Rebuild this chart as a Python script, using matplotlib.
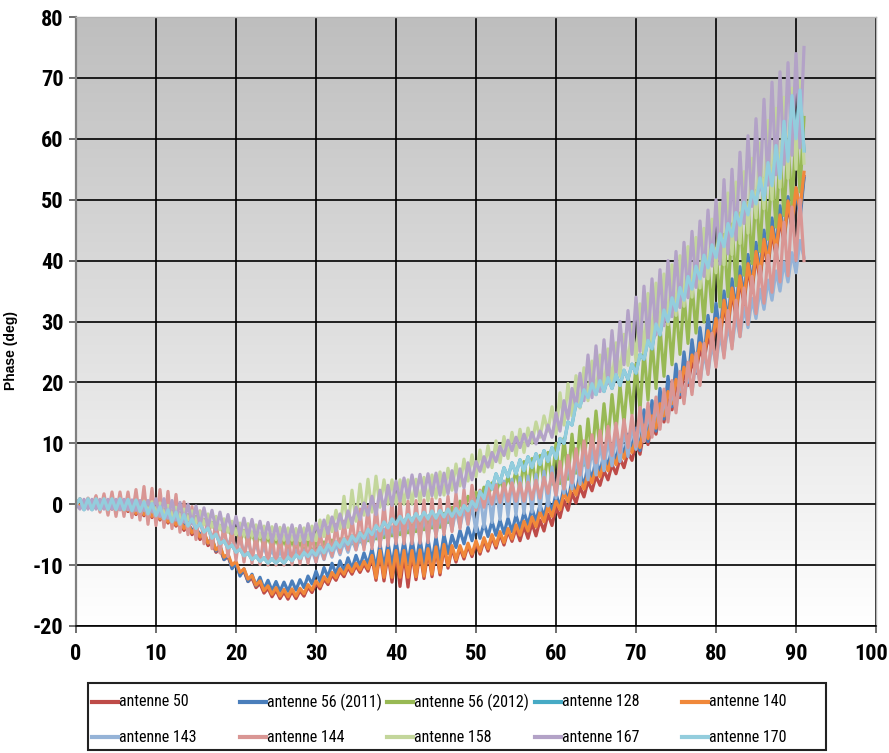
import numpy as np
import matplotlib
matplotlib.use('Agg')
import matplotlib.pyplot as plt
from matplotlib import font_manager
from matplotlib.colors import LinearSegmentedColormap
from matplotlib.lines import Line2D
from matplotlib.patches import Rectangle
from matplotlib.transforms import ScaledTranslation

# phase, one sample every 0.5 deg of angle (0 .. 91)
angle = np.arange(0, 91.5, 0.5)

ant50 = [0, -0.3, 0.1, -0.5, 0.3, -0.6, 0.2, -0.7, 0.1, -0.8,
         0.0, -0.9, -0.2, -1.2, -0.5, -1.7, -0.6, -1.9, -0.9, -2.2,
         -1.1, -2.6, -1.6, -3.1, -2.1, -3.6, -2.8, -4.3, -3.4, -5.0,
         -4.3, -5.8, -5.0, -6.8, -6.2, -7.9, -7.3, -9.1, -8.6, -10.4,
         -9.8, -11.6, -11.0, -12.7, -12.1, -13.7, -13.0, -14.6, -13.8, -15.2,
         -14.1, -15.5, -14.4, -15.6, -14.3, -15.5, -14.2, -15.1, -13.6, -14.5,
         -13.0, -13.9, -12.3, -13.2, -11.6, -12.5, -11.0, -11.9, -10.4, -11.5,
         -10.1, -11.2, -9.8, -11.0, -8.8, -12.5, -8.0, -12.6, -8.2, -12.8,
         -8.0, -13.5, -8.2, -13.6, -8.0, -12.4, -7.9, -12.2, -7.7, -11.9,
         -7.4, -11.6, -7.0, -10.5, -7.2, -9.5, -7.2, -9.0, -6.8, -8.6,
         -6.4, -8.2, -5.9, -7.7, -5.4, -7.2, -4.9, -6.7, -4.4, -6.1,
         -4.0, -6.0, -3.6, -5.6, -3.1, -5.2, -2.6, -4.4, -1.6, -3.5,
         -0.5, -2.2, 0.6, -1.0, 1.8, 0.2, 2.8, 1.2, 3.8, 2.2,
         4.6, 3.1, 5.5, 4.0, 6.5, 5.0, 7.5, 6.0, 8.5, 7.2,
         10.0, 8.2, 12.0, 9.8, 13.5, 11.5, 15.5, 13.5, 17.5, 15.5,
         19.5, 17.5, 21.5, 19.5, 23.5, 21.5, 25.5, 23.5, 27.5, 25.5,
         29.8, 26.8, 32.8, 28.8, 34.8, 30.8, 36.8, 32.8, 38.8, 34.8,
         40.8, 36.8, 42.8, 38.8, 44.8, 40.8, 46.8, 43.0, 49.2, 45.3,
         51.4, 47.7, 53.8]

ant56_2011 = [0, -0.3, 0.3, -0.3, 0.3, -0.3, 0.3, -0.3, 0.3, -0.4,
              0.1, -0.6, -0.1, -0.8, -0.3, -1.0, -0.5, -1.2, -0.8, -1.5,
              -1.0, -1.9, -1.5, -2.4, -2.0, -2.9, -2.6, -3.5, -3.2, -4.2,
              -4.0, -4.9, -4.7, -6.4, -5.5, -7.7, -6.7, -9.1, -8.2, -10.6,
              -9.7, -11.8, -10.6, -12.7, -11.5, -13.4, -12.0, -13.9, -12.5, -14.2,
              -12.7, -14.3, -12.8, -14.3, -12.6, -14.1, -12.4, -13.7, -11.8, -13.1,
              -11.0, -12.7, -10.4, -12.0, -9.7, -11.5, -9.3, -11.0, -8.8, -10.6,
              -8.4, -10.2, -8.0, -9.9, -7.3, -10.6, -6.5, -10.4, -6.3, -10.1,
              -6.0, -9.9, -5.9, -9.8, -5.7, -9.7, -5.7, -9.7, -5.7, -9.5,
              -5.4, -9.2, -5.0, -8.1, -5.1, -7.1, -4.3, -6.5, -3.8, -6.0,
              -3.3, -5.6, -3.1, -5.3, -2.8, -5.1, -2.6, -4.8, -2.3, -4.5,
              -1.8, -4.0, -1.3, -3.4, -0.7, -2.8, -0.1, -2.1, 0.8, -1.2,
              1.7, -0.5, 3.0, 0.5, 4.0, 1.6, 5.3, 2.9, 6.5, 4.0,
              7.5, 5.0, 8.5, 6.0, 9.5, 7.0, 10.5, 8.0, 11.5, 9.0,
              12.5, 8.8, 15.5, 10.3, 17.0, 12.0, 19.0, 14.0, 21.0, 16.0,
              23.0, 18.0, 25.0, 20.0, 27.0, 22.0, 29.0, 24.0, 31.0, 26.0,
              33.0, 28.0, 35.0, 30.0, 37.0, 32.0, 39.0, 34.0, 41.0, 36.0,
              43.0, 38.0, 45.0, 40.0, 47.0, 42.0, 49.0, 43.8, 50.5, 45.3,
              52.0, 46.8, 53.5]

ant56_2012 = [0, -0.5, 0.5, -0.6, 0.4, -0.6, 0.4, -0.6, 0.3, -0.7,
              0.3, -0.8, 0.1, -0.9, 0.0, -1.1, -0.2, -1.3, -0.3, -1.4,
              -0.5, -1.7, -0.8, -2.0, -1.1, -2.3, -1.4, -2.6, -1.7, -2.9,
              -2.0, -3.3, -2.5, -3.8, -3.0, -4.3, -3.5, -4.8, -4.0, -5.3,
              -4.0, -6.2, -4.3, -6.5, -4.6, -6.8, -4.9, -7.1, -5.2, -7.4,
              -5.5, -7.6, -5.7, -7.8, -5.8, -7.9, -6.0, -8.0, -6.0, -8.0,
              -6.4, -7.5, -6.2, -7.2, -5.9, -7.0, -5.7, -6.7, -5.4, -6.5,
              -5.2, -6.2, -4.9, -6.0, -4.7, -5.7, -4.4, -5.5, -4.2, -5.2,
              -3.9, -5.0, -3.7, -4.7, -3.4, -4.5, -3.2, -4.2, -2.9, -3.9,
              -2.2, -3.8, -1.5, -3.0, -0.5, -2.0, 0.5, -1.1, 1.3, -0.4,
              2.0, 0.4, 2.8, 1.1, 3.5, 1.8, 4.0, 2.3, 4.5, 2.8,
              5.5, 2.3, 7.0, 2.3, 7.5, 2.8, 8.0, 3.3, 8.5, 3.3,
              10.0, 3.4, 10.8, 4.1, 11.5, 5.1, 12.8, 6.4, 14.0, 7.6,
              15.3, 8.9, 16.5, 10.3, 18.0, 11.8, 19.5, 13.3, 21.0, 14.8,
              23.0, 15.4, 25.3, 17.1, 27.0, 19.0, 29.0, 21.0, 31.0, 22.9,
              32.8, 24.6, 34.5, 26.4, 36.3, 28.1, 38.0, 29.9, 39.8, 31.6,
              42.0, 32.4, 44.3, 34.1, 46.0, 35.9, 47.8, 37.6, 49.5, 39.5,
              51.5, 41.5, 53.5, 43.5, 55.5, 45.5, 57.5, 47.4, 59.3, 49.1,
              61.0, 51.3, 63.5]

ant140 = [0, -0.2, 0.2, -0.4, 0.4, -0.5, 0.3, -0.6, 0.2, -0.7,
          0.1, -0.8, -0.1, -1.0, -0.4, -1.5, -0.4, -1.7, -0.7, -2.0,
          -0.9, -2.4, -1.4, -2.9, -1.9, -3.4, -2.5, -4.0, -3.1, -4.7,
          -3.9, -5.4, -4.6, -6.4, -5.8, -7.5, -6.9, -8.7, -8.2, -10.0,
          -9.4, -11.2, -10.6, -12.3, -11.7, -13.3, -12.6, -14.2, -13.4, -14.8,
          -13.7, -15.1, -14.0, -15.2, -13.9, -15.1, -13.8, -14.7, -13.2, -14.1,
          -12.6, -13.5, -11.9, -12.8, -11.2, -12.1, -10.6, -11.5, -10.0, -11.1,
          -9.7, -10.8, -9.4, -10.6, -8.4, -12.1, -7.6, -12.0, -7.6, -12.0,
          -7.6, -12.0, -7.6, -12.0, -7.6, -11.9, -7.5, -11.8, -7.3, -11.5,
          -7.0, -11.2, -6.6, -10.1, -6.8, -9.1, -6.8, -8.6, -6.4, -8.2,
          -6.0, -7.8, -5.5, -7.3, -5.0, -6.8, -4.5, -6.3, -4.0, -5.7,
          -3.4, -5.1, -2.8, -4.4, -2.1, -3.7, -1.3, -2.9, -0.4, -2.0,
          0.5, -0.9, 1.8, 0.4, 3.0, 1.5, 4.0, 2.5, 5.0, 3.5,
          6.0, 4.5, 7.0, 5.5, 8.0, 6.5, 9.0, 7.5, 10.0, 8.5,
          11.0, 9.3, 13.0, 10.8, 14.5, 12.5, 16.5, 14.5, 18.5, 16.5,
          20.5, 18.5, 22.5, 20.5, 24.5, 22.5, 26.5, 24.5, 28.5, 26.5,
          30.5, 27.5, 33.5, 29.5, 35.5, 31.5, 37.5, 33.5, 39.5, 35.5,
          41.5, 37.5, 43.5, 39.5, 45.5, 41.5, 47.5, 43.6, 49.8, 45.9,
          52.0, 48.3, 54.5]

ant143 = [0, 0.8, -0.9, 0.7, -0.9, 0.7, -1.0, 0.6, -1.0, 0.5,
          -1.1, 0.4, -1.3, 0.1, -1.6, -0.1, -1.8, -0.3, -2.1, -0.6,
          -2.3, -0.9, -2.7, -1.3, -3.1, -1.7, -3.5, -2.1, -3.9, -2.5,
          -4.3, -3.0, -4.9, -3.6, -5.5, -4.2, -6.1, -4.8, -6.7, -5.4,
          -7.5, -5.7, -7.9, -6.1, -8.3, -6.5, -8.7, -6.9, -9.1, -7.3,
          -9.5, -7.5, -9.5, -7.5, -9.5, -7.5, -9.5, -7.5, -9.5, -7.5,
          -9.5, -7.3, -9.1, -6.9, -8.7, -6.5, -8.3, -6.1, -7.9, -5.7,
          -7.5, -5.3, -7.1, -4.9, -6.7, -4.5, -6.3, -4.1, -5.9, -3.7,
          -6.0, -2.9, -5.8, -2.7, -5.6, -2.5, -5.4, -2.3, -5.2, -2.1,
          -5.0, -1.8, -4.6, -1.4, -4.2, -1.0, -3.8, -0.6, -3.4, -0.2,
          -4.5, 1.9, -3.8, 2.6, -3.0, 3.3, -2.5, 3.8, -2.0, 4.1,
          -1.8, 4.4, -1.5, 4.6, -1.3, 4.9, -1.0, 5.4, -0.3, 6.1,
          1.0, 6.4, 1.8, 7.1, 2.5, 7.9, 3.3, 8.6, 4.0, 9.4,
          4.8, 10.1, 5.5, 10.9, 6.3, 11.6, 7.0, 12.4, 7.8, 13.1,
          9.0, 13.6, 10.3, 14.9, 11.5, 16.1, 12.8, 17.4, 14.0, 18.8,
          15.5, 20.3, 17.0, 21.8, 18.5, 23.3, 20.0, 24.8, 21.5, 26.3,
          23.0, 27.8, 24.5, 29.3, 26.0, 30.8, 27.5, 32.3, 29.0, 33.8,
          30.5, 35.3, 32.0, 36.8, 33.5, 38.3, 35.0, 39.8, 36.5, 41.3,
          38.0, 43.3, 40.5]

ant144 = [0, 0.9, -0.7, 1.0, -0.6, 1.4, -1.3, 1.7, -1.8, 2.0,
          -2.0, 2.0, -2.0, 2.0, -2.2, 2.4, -2.6, 2.9, -3.3, 2.6,
          -3.5, 2.4, -3.8, 2.1, -4.0, 1.6, -4.6, 0.4, -5.0, -0.4,
          -5.8, -1.1, -6.5, -1.9, -7.3, -2.6, -8.0, -3.3, -8.6, -3.9,
          -9.2, -4.3, -9.5, -4.6, -9.7, -4.8, -9.9, -4.9, -10.0, -5.0,
          -10.0, -5.0, -10.0, -5.0, -9.9, -4.9, -9.8, -4.7, -9.7, -4.6,
          -9.5, -4.3, -9.0, -3.8, -8.5, -3.3, -8.0, -2.8, -7.5, -2.3,
          -7.5, -0.8, -7.5, -0.4, -7.3, -0.1, -7.0, 0.1, -6.8, 0.4,
          -6.5, 0.5, -6.5, 0.5, -6.5, 0.6, -6.4, 0.7, -6.3, 0.9,
          -5.4, 0.8, -5.0, 1.3, -4.5, 1.8, -4.0, 2.4, -3.3, 3.1,
          -1.0, 2.3, -0.5, 2.8, 0.0, 3.1, 0.3, 3.4, 0.5, 3.5,
          0.5, 3.5, 0.5, 3.6, 0.8, 3.9, 1.0, 4.4, 1.8, 5.1,
          1.5, 7.0, 2.5, 8.0, 3.5, 9.1, 4.8, 10.4, 6.0, 11.4,
          6.8, 12.1, 7.5, 12.8, 8.0, 13.3, 8.5, 13.9, 9.3, 14.6,
          9.5, 15.9, 10.3, 16.6, 11.0, 17.6, 12.3, 18.9, 13.5, 20.3,
          15.0, 21.8, 16.5, 23.3, 18.0, 24.8, 19.5, 26.4, 21.3, 28.1,
          22.5, 30.3, 24.0, 31.8, 25.5, 33.5, 27.5, 35.5, 29.5, 37.4,
          31.3, 39.1, 33.0, 40.9, 34.8, 42.6, 36.5, 46.3, 37.5, 48.8,
          40.0, 50.0, 40.0]

ant158 = [0, 0.8, -0.8, 0.8, -0.8, 0.8, -0.8, 0.8, -0.8, 0.8,
          -0.8, 0.8, -0.9, 0.7, -1.0, 0.6, -1.1, 0.5, -1.2, 0.4,
          -1.3, 0.2, -1.6, -0.2, -1.9, -0.5, -2.2, -0.8, -2.5, -1.1,
          -3.0, -1.2, -3.4, -1.6, -3.8, -2.0, -4.2, -2.4, -4.6, -2.8,
          -5.0, -3.1, -5.2, -3.2, -5.3, -3.4, -5.5, -3.6, -5.6, -3.7,
          -5.8, -3.8, -5.9, -3.9, -5.9, -4.0, -6.0, -3.9, -5.8, -3.6,
          -6.0, -2.6, -5.3, -1.9, -4.5, -1.0, -4.0, 1.3, -3.8, 2.3,
          -2.8, 3.3, -1.8, 4.1, -1.3, 4.6, -0.5, 4.0, 0.0, 4.0,
          0.0, 4.0, 0.0, 4.0, 0.0, 4.1, 0.3, 4.4, 0.5, 4.8,
          1.0, 5.3, 1.5, 5.9, 2.3, 6.6, 3.0, 7.4, 3.8, 8.1,
          4.5, 8.9, 5.3, 9.6, 6.0, 10.4, 6.8, 11.1, 7.5, 11.8,
          8.0, 12.3, 8.5, 12.5, 10.0, 13.5, 11.0, 14.5, 12.0, 16.0,
          11.5, 18.3, 13.0, 19.8, 14.5, 21.1, 15.8, 22.4, 17.0, 23.5,
          18.0, 24.5, 19.0, 25.5, 20.0, 26.5, 21.0, 27.9, 22.8, 29.6,
          23.5, 32.9, 24.8, 34.6, 26.5, 36.3, 28.0, 37.8, 29.5, 39.3,
          31.0, 40.8, 32.5, 42.3, 34.0, 43.8, 35.5, 45.3, 37.0, 46.8,
          38.0, 49.4, 39.3, 51.1, 41.0, 52.9, 42.8, 54.6, 44.5, 56.8,
          47.0, 59.3, 48.5, 63.0, 50.0, 65.0, 52.0, 66.8, 53.5, 68.3,
          55.0, 69.5, 56.0]

ant167 = [0, -0.8, 0.8, -0.8, 0.8, -0.8, 0.8, -0.8, 0.8, -0.8,
          0.8, -0.9, 0.8, -0.9, 0.7, -1.0, 0.6, -1.0, 0.6, -1.1,
          0.9, -2.0, 0.9, -2.3, 0.6, -2.6, 0.3, -2.9, 0.0, -3.2,
          -0.3, -3.5, -0.6, -3.8, -1.0, -4.2, -1.3, -4.5, -1.7, -4.8,
          -2.0, -5.1, -2.3, -5.4, -2.5, -5.7, -2.8, -5.9, -3.0, -6.2,
          -3.3, -6.3, -3.4, -6.4, -3.4, -6.5, -3.5, -6.3, -3.2, -6.0,
          -3.1, -5.3, -2.6, -4.8, -2.1, -4.3, -1.6, -3.8, -1.1, -3.2,
          -0.5, -2.5, 0.2, -1.8, 1.3, -1.7, 2.3, -0.9, 3.1, -0.2,
          3.8, 0.5, 4.3, 1.0, 4.8, 1.3, 4.9, 1.4, 5.0, 1.4,
          5.1, 1.5, 5.1, 1.7, 5.5, 2.0, 5.8, 2.7, 6.8, 4.0,
          7.0, 5.4, 7.8, 6.1, 8.5, 7.0, 9.5, 8.0, 10.5, 8.8,
          11.0, 9.3, 11.5, 9.6, 11.8, 9.9, 12.0, 10.5, 13.0, 11.0,
          15.0, 12.0, 17.0, 14.0, 19.0, 16.0, 21.5, 17.0, 24.5, 17.5,
          26.0, 18.5, 27.0, 19.8, 28.5, 21.3, 30.0, 22.9, 31.8, 24.6,
          34.0, 25.1, 35.8, 26.4, 37.0, 27.8, 38.5, 29.3, 40.0, 30.8,
          41.5, 32.3, 43.0, 33.9, 44.8, 35.6, 46.5, 37.4, 48.3, 39.1,
          50.0, 39.4, 53.3, 41.1, 55.0, 43.4, 57.8, 46.1, 60.5, 48.9,
          63.3, 51.6, 66.5, 52.4, 69.3, 54.1, 71.0, 55.8, 72.5, 57.3,
          74.0, 58.5, 75.0]

ant170 = [0, 0.9, -0.9, 0.9, -0.9, 0.9, -0.9, 0.9, -0.9, 0.9,
          -0.9, 0.9, -0.9, 0.8, -1.1, 0.7, -1.2, 0.4, -1.6, 0.1,
          -1.9, -0.4, -2.4, -0.9, -2.9, -1.3, -3.3, -1.7, -3.6, -2.4,
          -4.0, -3.1, -4.6, -3.9, -5.6, -4.9, -6.5, -6.0, -7.2, -6.7,
          -7.9, -7.4, -8.5, -8.0, -9.1, -8.5, -9.4, -8.8, -9.7, -8.9,
          -9.7, -8.9, -9.7, -8.7, -9.3, -8.3, -8.9, -7.9, -8.6, -7.6,
          -8.4, -7.0, -8.0, -6.6, -7.6, -6.2, -7.1, -5.7, -6.6, -5.2,
          -6.1, -4.7, -5.6, -4.1, -5.0, -3.5, -4.4, -2.9, -3.9, -2.4,
          -3.3, -2.0, -3.1, -1.7, -2.8, -1.5, -2.6, -1.3, -2.4, -1.1,
          -2.3, -1.0, -2.1, -0.8, -2.0, -0.7, -1.8, -0.2, -1.1, 0.5,
          -0.5, 2.1, 0.9, 3.7, 2.5, 5.0, 3.5, 6.0, 4.5, 6.8,
          5.0, 7.3, 5.5, 7.8, 6.0, 8.3, 6.5, 8.8, 7.0, 9.3,
          7.5, 10.8, 10.0, 13.5, 13.0, 16.5, 16.0, 18.8, 17.5, 19.8,
          18.0, 20.3, 18.5, 20.8, 19.0, 21.3, 19.5, 22.0, 20.5, 23.0,
          21.5, 24.6, 23.8, 26.9, 25.5, 29.6, 27.8, 31.9, 30.0, 33.9,
          31.8, 35.6, 33.5, 37.4, 35.3, 39.1, 37.0, 40.9, 38.8, 42.6,
          40.5, 44.4, 42.3, 46.1, 44.0, 47.9, 45.8, 49.6, 47.5, 51.4,
          49.3, 53.6, 50.0, 56.1, 52.3, 58.9, 53.5, 62.9, 56.3, 67.1,
          60.0, 68.0, 58.0]

# antenne 128 is never seen: it lies under antenne 170 over the whole range
ant128 = ant170

names = ['antenne 50', 'antenne 56 (2011)', 'antenne 56 (2012)', 'antenne 128', 'antenne 140',
         'antenne 143', 'antenne 144', 'antenne 158', 'antenne 167', 'antenne 170']
series = [ant50, ant56_2011, ant56_2012, ant128, ant140,
          ant143, ant144, ant158, ant167, ant170]
colors = ['#BE4B48', '#4A7EBB', '#98B954', '#46AAC5', '#F0883A',
          '#95B3D7', '#D99694', '#C3D69B', '#B3A2C7', '#93CDDD']

for s in series:
    assert len(s) == len(angle), len(s)

plt.rcParams['axes.unicode_minus'] = False

# a narrow face if one is installed, like the Arial Narrow of the original
installed = {f.name for f in font_manager.fontManager.ttflist}
narrow = None
for cand in ['Liberation Sans Narrow', 'Roboto Condensed', 'Open Sans Condensed', 'DejaVu Sans Condensed']:
    if cand in installed:
        narrow = cand
        break
if narrow:
    tick_font = {'family': [narrow, 'DejaVu Sans'], 'size': 16}
    leg_font = {'family': [narrow, 'DejaVu Sans'], 'size': 11.5}
else:
    tick_font = {'family': ['Liberation Sans', 'DejaVu Sans'], 'size': 14}
    leg_font = {'family': ['Liberation Sans', 'DejaVu Sans'], 'size': 10}

W, H = 889, 753
fig = plt.figure(figsize=(W / 100, H / 100), dpi=100)
ax = fig.add_axes([76 / W, 1 - 626 / H, 800 / W, 609 / H])

# grey-to-white plot area
bg = LinearSegmentedColormap.from_list('bg', ['#FFFFFF', '#BEBEBE'])
ax.imshow(np.linspace(0, 1, 256).reshape(-1, 1), extent=[0, 100, -20, 80], origin='lower',
          aspect='auto', cmap=bg, zorder=0)

for vals, col in zip(series, colors):
    ax.plot(angle, vals, color=col, lw=2.3, solid_joinstyle='round', zorder=2)

ax.set_xlim(0, 100)
ax.set_ylim(-20, 80)
ax.set_xticks(range(0, 101, 10))
ax.set_yticks(range(-20, 81, 10))
ax.set_axisbelow(True)
ax.grid(True, color='black', lw=1.2)
ax.tick_params(direction='out', length=5, width=1.2, color='#555555', pad=4)
ax.tick_params(axis='x', pad=7)
for lab in ax.get_xticklabels() + ax.get_yticklabels():
    lab.set_family(tick_font['family'])
    lab.set_fontweight('bold')
    lab.set_fontsize(tick_font['size'])

ax.spines['left'].set_color('#808080')
ax.spines['left'].set_linewidth(1.6)
ax.spines['bottom'].set_color('black')
ax.spines['bottom'].set_linewidth(1.2)
for side in ['top', 'right']:
    ax.spines[side].set_color('#B5B5B5')
    ax.spines[side].set_linewidth(1.0)

ax.set_ylabel('Phase (deg)', fontsize=10, fontweight='bold', family=['Liberation Sans', 'DejaVu Sans'])
ax.yaxis.set_label_coords(-0.0725, 0.453)


def fx(px):
    return px / W


def fy(py):
    return 1 - py / H


# legend box, two rows of five as in the original
fig.patches.append(Rectangle((fx(88), fy(750)), fx(826) - fx(88), fy(683) - fy(750),
                             transform=fig.transFigure, facecolor='white',
                             edgecolor='#222222', lw=1.5, zorder=3))
col_x = [92, 240, 387, 535, 682]
row_y = [702, 737]
for k in range(len(names)):
    r, c = divmod(k, 5)
    x0, y0 = col_x[c], row_y[r]
    fig.add_artist(Line2D([fx(x0), fx(x0 + 26)], [fy(y0), fy(y0)], transform=fig.transFigure,
                          color=colors[k], lw=3, zorder=4))
    fig.text(fx(x0 + 27), fy(y0), names[k], ha='left', va='center', zorder=4,
             family=leg_font['family'], fontsize=leg_font['size'])

# the "100" label sits a little left so it stays inside the picture
last = ax.xaxis.get_major_ticks()[-1].label1
last.set_transform(last.get_transform() + ScaledTranslation(-5 / 100, 0, fig.dpi_scale_trans))

fig.savefig('out.png', dpi=100)
